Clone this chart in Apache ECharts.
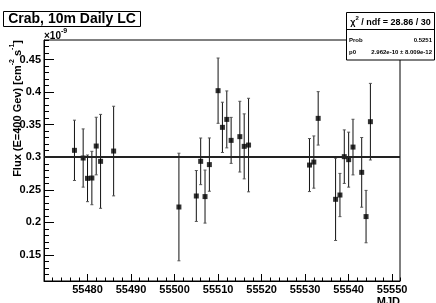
<!DOCTYPE html>
<html><head><meta charset="utf-8">
<script src="https://cdn.jsdelivr.net/npm/echarts@6/dist/echarts.min.js"></script>
<style>html,body{margin:0;padding:0;background:#fff}#c{width:436px;height:303px}</style>
</head><body><div id="c"></div>
<script>
// ---- data (flux in units of 1e-9) ----
const mjd = [55477,55479,55480,55481,55482,55483,55486,55501,55505,55506,55507,55508,55510,55511,55512,55513,55515,55516,55517,55531,55532,55533,55537,55538,55539,55540,55541,55543,55544,55545];
const flux = [0.3106,0.2988,0.2676,0.2681,0.3172,0.2937,0.3095,0.2236,0.2405,0.2937,0.2396,0.2887,0.4022,0.3459,0.3581,0.3259,0.3316,0.3167,0.3187,0.2880,0.2926,0.3597,0.2354,0.2420,0.3009,0.2963,0.3156,0.2768,0.2089,0.3546];
const fluxErr = [0.0463,0.0447,0.0358,0.0410,0.0442,0.0721,0.0688,0.0826,0.0391,0.0358,0.0407,0.0409,0.0501,0.0386,0.0437,0.0353,0.0543,0.0499,0.0718,0.0407,0.0401,0.0410,0.0632,0.0332,0.0411,0.0422,0.0427,0.0535,0.0402,0.0588];
const fitP0 = 0.2962;
const titleText = 'Crab, 10m Daily LC';
const xTitle = 'MJD';
const statsHeader = '{a|χ}{s|2}{a| / ndf = 28.86 / 30}';
const statsRows = [['Prob','0.5251'],['p0','2.962e-10 ± 8.009e-12']];

const F = '"Liberation Sans", Arial, Helvetica, sans-serif';
const xMin = 55470, xMax = 55551.8, yMin = 0.11, yMax = 0.48;

const chart = echarts.init(document.getElementById('c'), null, {renderer:'canvas'});
const blk = {color:'#000', width:1};

const option = {
  animation: false,
  backgroundColor: '#fff',
  grid: {left:44, top:40, right:36, bottom:22, show:true, borderColor:'#000', borderWidth:1, backgroundColor:'transparent'},
  xAxis: [
    {type:'value', min:xMin, max:xMax, interval:10,
     axisLine:{onZero:false, lineStyle:blk},
     axisTick:{inside:true, length:7, lineStyle:blk},
     axisLabel:{showMinLabel:false, showMaxLabel:false, fontFamily:F, fontWeight:'bold', fontSize:11, color:'#000', margin:3,
       formatter: v => String(Math.round(v))},
     splitLine:{show:false}},
    {type:'value', min:xMin, max:xMax, interval:2, position:'bottom',
     axisLine:{show:false}, axisTick:{inside:true, length:3.5, lineStyle:blk},
     axisLabel:{show:false}, splitLine:{show:false}}
  ],
  yAxis: [
    {type:'value', min:yMin, max:yMax, splitNumber:7, position:'left',
     axisLine:{onZero:false, lineStyle:blk},
     axisTick:{inside:true, length:10, lineStyle:blk},
     axisLabel:{showMinLabel:false, showMaxLabel:false, fontFamily:F, fontWeight:'bold', fontSize:11, color:'#000', margin:3,
       formatter: v => String(+v.toFixed(2))},
     splitLine:{show:false}},
    {type:'value', min:yMin, max:yMax, interval:0.01, position:'left',
     axisLine:{show:false}, axisTick:{inside:true, length:5, lineStyle:blk},
     axisLabel:{show:false}, splitLine:{show:false}}
  ],
  series: [
    {type:'custom', xAxisIndex:0, yAxisIndex:0, z:2,
     data: mjd.map((m,i)=>[m, flux[i]-fluxErr[i], flux[i]+fluxErr[i]]),
     encode:{x:0, y:[1,2]},
     renderItem:(params, api) => {
       const x = api.value(0);
       const lo = api.coord([x, api.value(1)]);
       const hi = api.coord([x, api.value(2)]);
       const cw = 1.5;
       return {type:'group', children:[
         {type:'line', shape:{x1:lo[0], y1:lo[1], x2:hi[0], y2:hi[1]}, style:{stroke:'#111', lineWidth:1}},
         {type:'line', shape:{x1:lo[0]-cw, y1:lo[1], x2:lo[0]+cw, y2:lo[1]}, style:{stroke:'#555', lineWidth:1}},
         {type:'line', shape:{x1:hi[0]-cw, y1:hi[1], x2:hi[0]+cw, y2:hi[1]}, style:{stroke:'#555', lineWidth:1}}
       ]};
     }},
    {type:'scatter', xAxisIndex:0, yAxisIndex:0, z:3,
     data: mjd.map((m,i)=>[m, flux[i]]),
     symbol:'rect', symbolSize:5, itemStyle:{color:'#000'},
     markLine:{silent:true, symbol:'none', label:{show:false}, animation:false,
       lineStyle:{color:'#222', width:2, type:'solid'}, data:[{yAxis:fitP0}]}}
  ],
  graphic: [
    {type:'rect', z:100, shape:{x:3.5, y:11.5, width:137, height:15}, style:{fill:'#fff', stroke:'#000', lineWidth:1}},
    {type:'text', z:101, x:72, y:19.5, style:{text:titleText, fontFamily:F, fontWeight:'bold', fontSize:14, fill:'#000',
      align:'center', verticalAlign:'middle', textAlign:'center', textVerticalAlign:'middle'}},
    {type:'text', z:101, x:16, y:40, rotation:Math.PI/2,
     style:{text:'{a|Flux (E=400 Gev) [cm}{s|-2}{a| s}{s|-1}{a|]}', align:'right', verticalAlign:'middle', textAlign:'right', textVerticalAlign:'middle',
       rich:{a:{fontFamily:F, fontWeight:'bold', fontSize:11, lineHeight:14, verticalAlign:'bottom', fill:'#000'},
             s:{fontFamily:F, fontWeight:'bold', fontSize:7, lineHeight:7, verticalAlign:'top', fill:'#000'}}}},
    {type:'text', z:101, x:44, y:41,
     style:{text:'{a|×10}{s|-9}', align:'left', verticalAlign:'bottom', textAlign:'left', textVerticalAlign:'bottom',
       rich:{a:{fontFamily:F, fontWeight:'bold', fontSize:10, lineHeight:13, verticalAlign:'bottom', fill:'#000'},
             s:{fontFamily:F, fontWeight:'bold', fontSize:7, lineHeight:7, verticalAlign:'top', fill:'#000'}}}},
    {type:'text', z:101, x:400, y:296, style:{text:xTitle, fontFamily:F, fontWeight:'bold', fontSize:11, fill:'#000',
      align:'right', verticalAlign:'top', textAlign:'right', textVerticalAlign:'top'}},
    {type:'rect', z:100, shape:{x:346.5, y:12.5, width:88, height:47.5}, style:{fill:'#fff', stroke:'#000', lineWidth:1}},
    {type:'line', z:101, shape:{x1:346.5, y1:29.5, x2:434.5, y2:29.5}, style:{stroke:'#000', lineWidth:1}},
    {type:'text', z:101, x:390.5, y:21.5,
     style:{text:statsHeader, align:'center', verticalAlign:'middle', textAlign:'center', textVerticalAlign:'middle',
       rich:{a:{fontFamily:F, fontWeight:'bold', fontSize:9, lineHeight:12, verticalAlign:'bottom', fill:'#000'},
             s:{fontFamily:F, fontWeight:'bold', fontSize:6, lineHeight:6, verticalAlign:'top', fill:'#000'}}}},
    ...statsRows.flatMap((r,i)=>[
      {type:'text', z:101, x:349, y:40+i*12, style:{text:r[0], fontFamily:F, fontWeight:'bold', fontSize:6, fill:'#000',
        align:'left', verticalAlign:'middle', textAlign:'left', textVerticalAlign:'middle'}},
      {type:'text', z:101, x:432, y:40+i*12, style:{text:r[1], fontFamily:F, fontWeight:'bold', fontSize:6, fill:'#000',
        align:'right', verticalAlign:'middle', textAlign:'right', textVerticalAlign:'middle'}}
    ])
  ]
};
chart.setOption(option);
</script>
</body></html>
